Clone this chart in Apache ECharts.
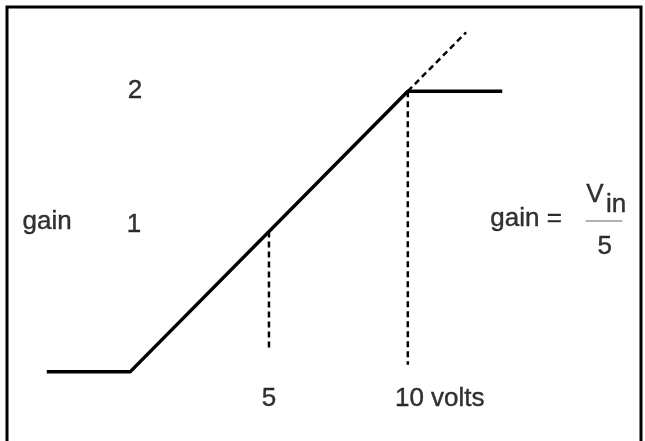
<!DOCTYPE html>
<html>
<head>
<meta charset="utf-8">
<script src="https://cdn.jsdelivr.net/npm/echarts@6/dist/echarts.min.js"></script>
<style>
  html, body { margin: 0; padding: 0; background: #fff; }
  #main { width: 645px; height: 441px; }
</style>
</head>
<body>
<div id="main"></div>
<script>
// volts on x, gain on y
var gainCurve   = [[-3, 0], [0, 0], [10, 2], [13.4, 2]];
var extension   = [[10, 2], [12.1, 2.42]];
var drop5       = [[5, 1], [5, 0.157]];
var drop10      = [[10, 2], [10, 0.05]];
var fractionBar = [[16.4, 1.075], [17.73, 1.075]];

// annotation texts and where they sit (in volts / gain units)
var labelTexts = ['2', '1', 'gain', '5', '10 volts', 'gain =', 'V', 'in', '5'];
var labelVolts = [0.18, 0.14, -2.99, 5.0, 11.15, 14.26, 16.74, 17.5, 17.09];
var labelGain  = [2.0, 1.046, 1.07, -0.19, -0.19, 1.09, 1.265, 1.19, 0.893];

var chart = echarts.init(document.getElementById('main'));

var labelData = labelTexts.map(function (t, i) {
  return { name: t, value: [labelVolts[i], labelGain[i]] };
});

var dashed = { color: '#000', width: 2.5, type: [6, 4] };

var option = {
  animation: false,
  backgroundColor: '#fff',
  grid: { left: 19, right: 15, top: 7, bottom: 13 },
  xAxis: { type: 'value', min: -4, max: 18, show: false },
  yAxis: { type: 'value', min: -0.4, max: 2.6, show: false },
  graphic: [{
    type: 'polyline',
    shape: { points: [[7, 445], [7, 7], [641, 7], [641, 445]] },
    style: { stroke: '#000', lineWidth: 3, fill: null },
    silent: true
  }],
  series: [
    {
      type: 'line', data: gainCurve, symbol: 'none', silent: true,
      lineStyle: { color: '#000', width: 3.5 }
    },
    { type: 'line', data: extension, symbol: 'none', silent: true, lineStyle: dashed },
    { type: 'line', data: drop5, symbol: 'none', silent: true, lineStyle: dashed },
    { type: 'line', data: drop10, symbol: 'none', silent: true, lineStyle: dashed },
    {
      type: 'line', data: fractionBar, symbol: 'none', silent: true,
      lineStyle: { color: '#666', width: 1.2 }
    },
    {
      type: 'scatter',
      data: labelData,
      symbolSize: 0,
      silent: true,
      label: {
        show: true,
        position: 'inside',
        formatter: '{b}',
        color: '#000',
        textBorderColor: '#000',
        textBorderWidth: 0.4,
        fontFamily: 'Liberation Sans, Arial, sans-serif',
        fontSize: 26
      }
    }
  ]
};

chart.setOption(option);
</script>
</body>
</html>
